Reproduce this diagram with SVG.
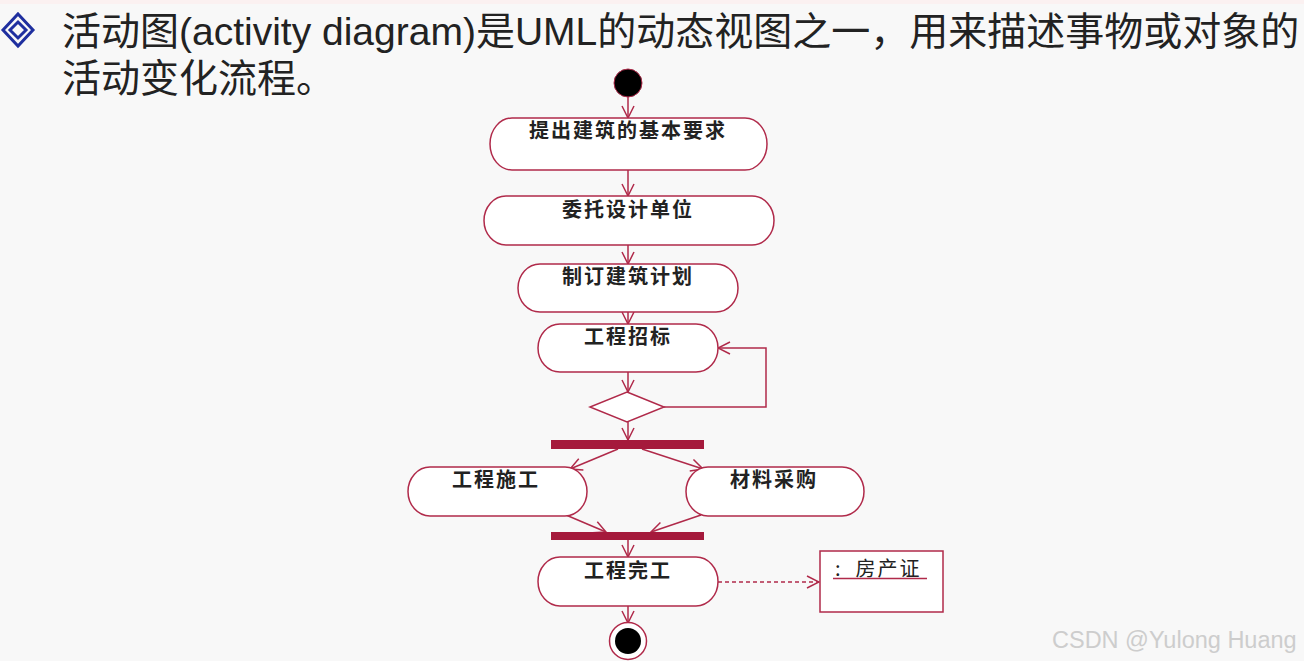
<svg xmlns="http://www.w3.org/2000/svg" width="1304" height="661" viewBox="0 0 1304 661">
<style>
.title{font-family:"Liberation Sans","Noto Sans CJK SC",sans-serif;font-size:39px;fill:#222}
.node rect{fill:#ffffff;stroke:#b02a4a;stroke-width:1.5}
.lbl{font-family:"Noto Sans CJK SC",sans-serif;font-size:20px;font-weight:bold;fill:#222;letter-spacing:2px;text-anchor:middle}
.edge{fill:none;stroke:#b02a4a;stroke-width:1.5}
.bar{fill:#a51a3c}
.wm{font-family:"Liberation Sans",sans-serif;font-size:23.5px;fill:#cdcdcd}
</style>
<defs>
<marker id="arr" viewBox="0 0 14 14" refX="13" refY="7" markerWidth="14" markerHeight="14" markerUnits="userSpaceOnUse" orient="auto">
<path d="M1,1 L13,7 L1,13" fill="none" stroke="#b02a4a" stroke-width="1.5"/>
</marker>
</defs>
<rect x="0" y="0" width="1304" height="661" fill="#f8f8f8"/>
<rect x="0" y="0" width="1304" height="4" fill="#fbf1f1"/>
<g id="bullet">
<polygon points="18,14 33,30 18,46 3,30" fill="none" stroke="#1f2f9f" stroke-width="3"/>
<polygon points="18,22 26,30 18,38 10,30" fill="none" stroke="#1f2f9f" stroke-width="3"/>
</g>
<g id="title">
<text class="title" x="62" y="45">活动图(activity diagram)是UML的动态视图之一，用来描述事物或对象的</text>
<text class="title" x="62" y="92">活动变化流程。</text>
</g>
<g id="connectors">
<path class="edge" d="M628,97 V118" marker-end="url(#arr)"/>
<path class="edge" d="M628,170 V196" marker-end="url(#arr)"/>
<path class="edge" d="M628,245 V264" marker-end="url(#arr)"/>
<path class="edge" d="M628,312 V324" marker-end="url(#arr)"/>
<path class="edge" d="M628,372 V392" marker-end="url(#arr)"/>
<path class="edge" d="M664,407 H766 V348 H718" marker-end="url(#arr)"/>
<path class="edge" d="M628,422 V440" marker-end="url(#arr)"/>
<path class="edge" d="M618,449 L570,469" marker-end="url(#arr)"/>
<path class="edge" d="M642,449 L703,469" marker-end="url(#arr)"/>
<path class="edge" d="M566,515 L606,532" marker-end="url(#arr)"/>
<path class="edge" d="M701,515 L651,532" marker-end="url(#arr)"/>
<path class="edge" d="M628,540 V557" marker-end="url(#arr)"/>
<path class="edge" d="M718,582 H819" stroke-dasharray="4,3" marker-end="url(#arr)"/>
<path class="edge" d="M628,606 V623" marker-end="url(#arr)"/>
</g>
<g id="start">
<circle cx="628" cy="83" r="14" fill="#000" stroke="#b02a4a" stroke-width="1"/>
</g>
<g id="n1" class="node">
<rect x="490" y="118" width="277" height="52" rx="22" ry="26"/>
<text class="lbl" x="628" y="138">提出建筑的基本要求</text>
</g>
<g id="n2" class="node">
<rect x="484" y="196" width="290" height="49" rx="22" ry="24.5"/>
<text class="lbl" x="628" y="217">委托设计单位</text>
</g>
<g id="n3" class="node">
<rect x="518" y="264" width="220" height="48" rx="22" ry="24"/>
<text class="lbl" x="628" y="284">制订建筑计划</text>
</g>
<g id="n4" class="node">
<rect x="538" y="324" width="180" height="48" rx="22" ry="24"/>
<text class="lbl" x="628" y="344">工程招标</text>
</g>
<g id="decision">
<polygon points="627,392 664,407 627,422 590,407" fill="#fff" stroke="#b02a4a" stroke-width="1.5"/>
</g>
<g id="fork">
<rect class="bar" x="551" y="440" width="153" height="9"/>
</g>
<g id="n5" class="node">
<rect x="408" y="467" width="179" height="49" rx="22" ry="24.5"/>
<text class="lbl" x="496" y="487">工程施工</text>
</g>
<g id="n6" class="node">
<rect x="686" y="467" width="178" height="49" rx="22" ry="24.5"/>
<text class="lbl" x="774" y="487">材料采购</text>
</g>
<g id="join">
<rect class="bar" x="551" y="532" width="153" height="8"/>
</g>
<g id="n7" class="node">
<rect x="538" y="557" width="180" height="49" rx="22" ry="24.5"/>
<text class="lbl" x="628" y="578">工程完工</text>
</g>
<g id="obj">
<rect x="820" y="551" width="123" height="61" fill="#fff" stroke="#b02a4a" stroke-width="1.5"/>
<text x="835" y="576" font-family="Noto Sans CJK SC,sans-serif" font-size="20" fill="#222" xml:space="preserve" letter-spacing="2">:  房产证</text>
<line x1="833" y1="578.5" x2="927" y2="578.5" stroke="#b02a4a" stroke-width="1.5"/>
</g>
<g id="end">
<circle cx="628" cy="641" r="18.5" fill="#fff" stroke="#b02a4a" stroke-width="1.5"/>
<circle cx="628" cy="641" r="13" fill="#000"/>
</g>
<text class="wm" x="1052" y="648">CSDN @Yulong Huang</text>
</svg>
